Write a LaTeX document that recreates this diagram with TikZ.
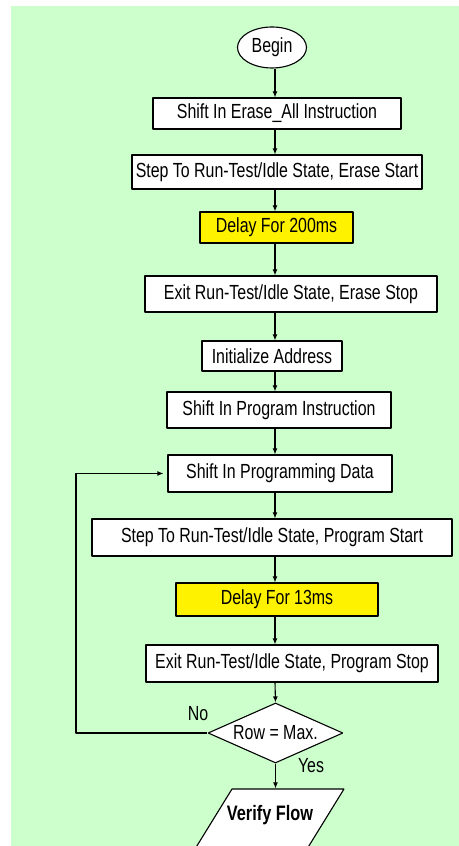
\documentclass[tikz,border=0pt]{standalone}
\usepackage{fontspec}
\setmainfont{Liberation Sans}[FakeStretch=0.78]
\usepackage{tikz}
\usetikzlibrary{arrows.meta}
\usetikzlibrary{shapes.geometric}
\definecolor{bggreen}{RGB}{204,255,204}

\begin{document}
\begin{tikzpicture}[>={Latex[length=6bp,width=5bp]},line join=bevel,line width=1.1bp,
  font=\fontsize{20.5}{24}\selectfont,
  box/.style={draw=black,fill=white,rectangle,inner sep=0pt},
  delaybox/.style={box,fill=yellow},
  label/.style={inner sep=0pt}]
%%
\clip (0bp,0bp) rectangle (459bp,846bp);
\fill [white] (0bp,0bp) rectangle (459bp,846bp);
\fill [bggreen] (11bp,0bp) rectangle (459bp,840bp);
\coordinate (axis) at (275bp,0bp);
\coordinate (loop) at (76bp,0bp);
% output box, cut by the lower edge
\path [draw=black,fill=white] (232bp,57bp) -- (344bp,57bp) -- (307bp,-3bp) -- (195bp,-3bp) -- cycle;
\node (node_0) at (272bp,798.5bp) [ellipse,draw=black,fill=white,inner sep=0pt,minimum width=69bp,minimum height=41bp] {Begin};
  \node (node_1) at (277bp,732.5bp) [box,minimum width=248bp,minimum height=31bp] {Shift In Erase\_All Instruction};
  \node (node_2) at (277bp,674bp) [box,minimum width=290bp,minimum height=34bp] {Step To Run-Test/Idle State, Erase Start};
  \node (node_3) at (276.5bp,618.5bp) [delaybox,minimum width=153bp,minimum height=31bp] {Delay For 200ms};
  \node (node_4) at (291bp,552bp) [box,minimum width=292bp,minimum height=36bp] {Exit Run-Test/Idle State, Erase Stop};
  \node (node_5) at (272bp,490bp) [box,minimum width=140bp,minimum height=30bp] {Initialize Address};
  \node (node_6) at (279bp,436bp) [box,minimum width=224bp,minimum height=36bp] {Shift In Program Instruction};
  \node (node_7) at (280bp,372.5bp) [box,minimum width=224bp,minimum height=37bp] {Shift In Programming Data};
  \node (node_8) at (272bp,308.5bp) [box,minimum width=360bp,minimum height=37bp] {Step To Run-Test/Idle State, Program Start};
  \node (node_9) at (277bp,246.5bp) [delaybox,minimum width=202bp,minimum height=33bp] {Delay For 13ms};
  \node (node_10) at (292bp,182.5bp) [box,minimum width=292bp,minimum height=37bp] {Exit Run-Test/Idle State, Program Stop};
  \node (node_11) at (275.5bp,113bp) [diamond,aspect=2.25,draw=black,fill=white,inner sep=0pt,minimum width=135bp,minimum height=60bp] {Row = Max.};
  \node (node_12) at (270bp,31bp) [inner sep=0pt,minimum height=52bp,font=\bfseries\fontsize{21}{24}\selectfont] {Verify Flow};
  \node (node_13) at (198bp,132bp) [label] {No};
  \node (node_14) at (311bp,80bp) [label] {Yes};
  \draw [black,->] (node_0.south -| axis) -- (node_1.north -| axis);
  \draw [black,->] (node_1.south -| axis) -- (node_2.north -| axis);
  \draw [black,->] (node_2.south -| axis) -- (node_3.north -| axis);
  \draw [black,->] (node_3.south -| axis) -- (node_4.north -| axis);
  \draw [black,->] (node_4.south -| axis) -- (node_5.north -| axis);
  \draw [black,->] (node_5.south -| axis) -- (node_6.north -| axis);
  \draw [black,->] (node_6.south -| axis) -- (node_7.north -| axis);
  \draw [black,->] (node_7.south -| axis) -- (node_8.north -| axis);
  \draw [black,->] (node_8.south -| axis) -- (node_9.north -| axis);
  \draw [black,->] (node_9.south -| axis) -- (node_10.north -| axis);
  \draw [black,->] (node_10.south -| axis) -- (node_11.north);
  \draw [black,->] (node_11.south) -- (node_12.north -| node_11.south);
  \draw [black,->,shorten >=4bp] (node_11.west) -- (node_11.west -| loop) |- (node_7.west);
%
\end{tikzpicture}
\end{document}
